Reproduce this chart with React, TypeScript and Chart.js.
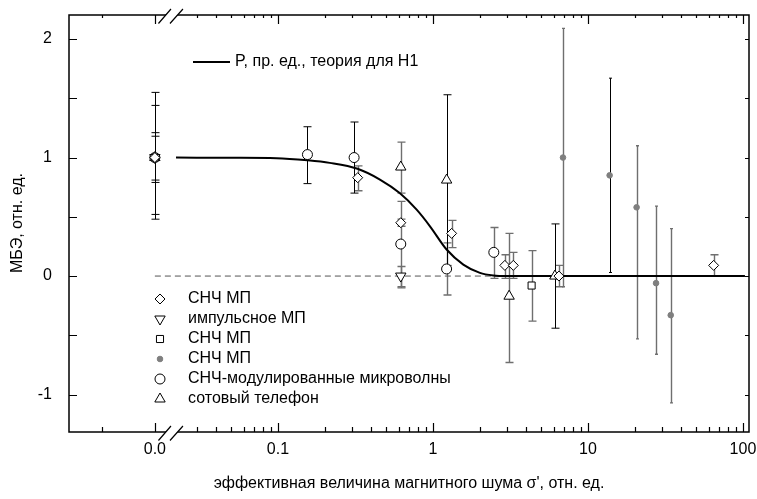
import React, { useEffect, useRef } from 'react';
import { Chart, registerables } from 'chart.js';
import { drawPoint } from 'chart.js/helpers';

Chart.register(...registerables);

const FONT = '"Liberation Sans", Arial, sans-serif';

// ---------- texts & ticks ----------
const xTickValues = [0, 0.1, 1, 10, 100];
const xTickLabels = ['0.0', '0.1', '1', '10', '100'];
const yTickValues = [-1, 0, 1, 2];
const legendLabels = ['СНЧ МП', 'импульсное МП', 'СНЧ МП', 'СНЧ МП', 'СНЧ-модулированные микроволны', 'сотовый телефон'];
const curveLabel = 'P, пр. ед., теория для H1';
const xTitle = 'эффективная величина магнитного шума σ\', отн. ед.';
const yTitle = 'МБЭ, отн. ед.';

// ---------- data ----------
// theory curve
const curveX = [0.022, 0.05, 0.098, 0.155, 0.216, 0.326, 0.455, 0.61, 0.785, 0.957, 1.225, 1.57, 2.01, 2.45, 3.0, 103];
const curveY = [1.0, 0.998, 0.995, 0.977, 0.955, 0.905, 0.814, 0.70, 0.56, 0.42, 0.224, 0.097, 0.027, 0.005, 0.0, 0.0];
// zero reference line
const zeroX = [0, 103];
const zeroY = [0, 0];

// diamonds: СНЧ МП
const diamondX = [0, 0.327, 0.62, 1.32, 2.91, 3.30, 6.5, 64.7];
const diamondY = [1.0, 0.83, 0.45, 0.36, 0.09, 0.09, 0.0, 0.09];
const diamondLo = [0.79, 0.72, 0.42, 0.24, -0.02, -0.02, -0.09, 0.0];
const diamondHi = [1.21, 0.93, 0.48, 0.47, 0.18, 0.20, 0.09, 0.18];

// down triangles: импульсное МП
const downTriX = [0, 0.62];
const downTriY = [1.0, 0.0];
const downTriLo = [0.81, -0.1];
const downTriHi = [1.18, 0.08];

// squares: СНЧ МП
const squareX = [0, 4.33];
const squareY = [1.0, -0.08];
const squareLo = [1.0, -0.38];
const squareHi = [1.0, 0.215];

// grey dots: СНЧ МП
const dotX = [6.9, 13.8, 20.6, 27.5, 34.2];
const dotY = [1.0, 0.85, 0.58, -0.06, -0.33];
const dotLo = [-0.09, 0.03, -0.53, -0.66, -1.07];
const dotHi = [2.09, 1.67, 1.10, 0.59, 0.40];

// circles: СНЧ-модулированные микроволны
const circleX = [0, 0.155, 0.31, 0.62, 1.225, 2.47];
const circleY = [1.0, 1.025, 1.0, 0.27, 0.06, 0.20];
const circleLo = [0.48, 0.78, 0.70, -0.09, -0.16, -0.02];
const circleHi = [1.55, 1.26, 1.30, 0.63, 0.28, 0.41];

// triangles: сотовый телефон
const triX = [0, 0.62, 1.225, 3.1, 6.12];
const triY = [1.0, 0.92, 0.81, -0.17, 0.0];
const triLo = [0.52, 0.70, 0.09, -0.73, -0.44];
const triHi = [1.44, 1.13, 1.53, 0.36, 0.44];

// ---------- axis geometry (log10 units) ----------
const X_MIN_L = -2.348;
const X_MAX_L = 2.039;
const ZERO_POS_L = -1.794; // where "0.0" sits
const BREAK_L = -1.687;
const PRE_MINOR_L = -2.136;
const Y_MIN = -1.316;
const Y_MAX = 2.203;
const toL = (v: number) => (v === 0 ? ZERO_POS_L : Math.log10(v));

type Series = {
  label: string; x: number[]; y: number[]; lo: number[]; hi: number[];
  pointStyle: string; radius: number; rotation: number; bg: string; border: string;
  cap: number; blackBars: number[];
};

const series: Series[] = [
  { label: legendLabels[0], x: diamondX, y: diamondY, lo: diamondLo, hi: diamondHi, pointStyle: 'rectRot', radius: 5, rotation: 0, bg: '#fff', border: '#000', cap: 4, blackBars: [0] },
  { label: legendLabels[1], x: downTriX, y: downTriY, lo: downTriLo, hi: downTriHi, pointStyle: 'triangle', radius: 6, rotation: 180, bg: '#fff', border: '#000', cap: 4, blackBars: [0] },
  { label: legendLabels[2], x: squareX, y: squareY, lo: squareLo, hi: squareHi, pointStyle: 'rect', radius: 5, rotation: 0, bg: '#fff', border: '#000', cap: 4, blackBars: [] },
  { label: legendLabels[3], x: dotX, y: dotY, lo: dotLo, hi: dotHi, pointStyle: 'circle', radius: 2.8, rotation: 0, bg: '#7f7f7f', border: '#7f7f7f', cap: 1.5, blackBars: [1] },
  { label: legendLabels[4], x: circleX, y: circleY, lo: circleLo, hi: circleHi, pointStyle: 'circle', radius: 5, rotation: 0, bg: '#fff', border: '#000', cap: 4, blackBars: [0, 1, 2] },
  { label: legendLabels[5], x: triX, y: triY, lo: triLo, hi: triHi, pointStyle: 'triangle', radius: 6, rotation: 0, bg: '#fff', border: '#000', cap: 4, blackBars: [0, 2, 4] },
];

const decorPlugin = {
  id: 'decor',
  beforeDatasetsDraw(chart: any) {
    const ctx = chart.ctx;
    const xs = chart.scales.x;
    const ys = chart.scales.y;
    ctx.save();
    series.forEach((s) => {
      s.x.forEach((xv, i) => {
        if (s.lo[i] === s.hi[i]) return;
        const black = s.blackBars.includes(i);
        const px = Math.round(xs.getPixelForValue(toL(xv))) + 0.5;
        const p1 = ys.getPixelForValue(s.hi[i]);
        const p2 = ys.getPixelForValue(s.lo[i]);
        ctx.strokeStyle = black ? '#000' : '#6f6f6f';
        ctx.lineWidth = black ? 1 : 1.4;
        ctx.beginPath();
        ctx.moveTo(px, p1);
        ctx.lineTo(px, p2);
        ctx.moveTo(px - s.cap, p1);
        ctx.lineTo(px + s.cap, p1);
        ctx.moveTo(px - s.cap, p2);
        ctx.lineTo(px + s.cap, p2);
        ctx.stroke();
      });
    });
    ctx.restore();
  },
  afterDraw(chart: any) {
    const ctx = chart.ctx;
    const { left, right, top, bottom } = chart.chartArea;
    const xs = chart.scales.x;
    const ys = chart.scales.y;
    ctx.save();
    ctx.strokeStyle = '#000';
    ctx.lineWidth = 1.5;
    ctx.strokeRect(left, top, right - left, bottom - top);

    // x ticks
    const minors: number[] = [PRE_MINOR_L];
    for (let d = -2; d <= 1; d++) {
      for (let k = 2; k <= 9; k++) {
        const l = d + Math.log10(k);
        if (l > BREAK_L + 0.06) minors.push(l);
      }
    }
    const majors = xTickValues.map(toL);
    ctx.lineWidth = 1.2;
    ctx.beginPath();
    majors.forEach((l) => {
      const px = Math.round(xs.getPixelForValue(l)) + 0.5;
      ctx.moveTo(px, bottom); ctx.lineTo(px, bottom - 9);
      ctx.moveTo(px, top); ctx.lineTo(px, top + 9);
    });
    minors.forEach((l) => {
      const px = Math.round(xs.getPixelForValue(l)) + 0.5;
      ctx.moveTo(px, bottom); ctx.lineTo(px, bottom - 5);
      ctx.moveTo(px, top); ctx.lineTo(px, top + 3);
    });
    // y ticks every 0.5
    for (let v = -1; v <= 2; v += 0.5) {
      const py = Math.round(ys.getPixelForValue(v)) + 0.5;
      ctx.moveTo(left, py); ctx.lineTo(left + 8, py);
      ctx.moveTo(right, py); ctx.lineTo(right - 4, py);
    }
    ctx.stroke();

    // axis breaks
    const c = xs.getPixelForValue(BREAK_L);
    [bottom, top].forEach((y0) => {
      ctx.fillStyle = '#fff';
      ctx.beginPath();
      ctx.moveTo(c - 13, y0 + 8.5);
      ctx.lineTo(c - 0.5, y0 - 6);
      ctx.lineTo(c + 11.5, y0 - 6);
      ctx.lineTo(c - 1.5, y0 + 8.5);
      ctx.closePath();
      ctx.fill();
      ctx.lineWidth = 1.2;
      ctx.strokeStyle = '#000';
      ctx.beginPath();
      ctx.moveTo(c - 13, y0 + 8.5); ctx.lineTo(c - 0.5, y0 - 6);
      ctx.moveTo(c - 1.5, y0 + 8.5); ctx.lineTo(c + 11.5, y0 - 6);
      ctx.stroke();
    });

    // curve legend
    ctx.fillStyle = '#000';
    ctx.font = `16px ${FONT}`;
    ctx.textBaseline = 'middle';
    ctx.textAlign = 'left';
    ctx.lineWidth = 2;
    ctx.beginPath();
    ctx.moveTo(193, 62); ctx.lineTo(230, 62);
    ctx.stroke();
    ctx.fillText(curveLabel, 235, 62);

    // markers legend
    series.forEach((s, i) => {
      const y = 299 + i * 20;
      ctx.fillStyle = s.bg;
      ctx.strokeStyle = s.border;
      ctx.lineWidth = 1;
      drawPoint(ctx, { pointStyle: s.pointStyle as any, radius: s.radius, rotation: s.rotation, borderWidth: 1 }, 160, y);
      ctx.fillStyle = '#000';
      ctx.fillText(s.label, 188, y);
    });

    // titles
    ctx.textAlign = 'center';
    ctx.fillText(xTitle, 409, 484);
    ctx.translate(18, 223);
    ctx.rotate(-Math.PI / 2);
    ctx.fillText(yTitle, 0, 0);
    ctx.restore();
  },
};

export default function App() {
  const ref = useRef<HTMLCanvasElement>(null);
  useEffect(() => {
    document.body.style.margin = '0';
    const canvas = ref.current!;
    const datasets: any[] = series.map((s) => ({
      type: 'scatter',
      label: s.label,
      data: s.x.map((xv, i) => ({ x: toL(xv), y: s.y[i] })),
      pointStyle: s.pointStyle,
      pointRadius: s.radius,
      pointRotation: s.rotation,
      pointBackgroundColor: s.bg,
      pointBorderColor: s.border,
      pointBorderWidth: 1,
      showLine: false,
    }));
    datasets.push({
      type: 'line',
      label: curveLabel,
      data: curveX.map((xv, i) => ({ x: toL(xv), y: curveY[i] })),
      borderColor: '#000',
      borderWidth: 2,
      pointRadius: 0,
      showLine: true,
      fill: false,
      cubicInterpolationMode: 'monotone',
    });
    datasets.push({
      type: 'line',
      label: 'zero',
      data: zeroX.map((xv, i) => ({ x: toL(xv), y: zeroY[i] })),
      borderColor: '#555',
      borderWidth: 1,
      borderDash: [6, 4],
      pointRadius: 0,
      showLine: true,
      fill: false,
    });
    const chart = new Chart(canvas, {
      type: 'scatter',
      data: { datasets },
      options: {
        animation: false,
        responsive: false,
        devicePixelRatio: 1,
        layout: { padding: { top: 15, right: 8, left: 0, bottom: 0 } },
        plugins: { legend: { display: false }, tooltip: { enabled: false } },
        events: [],
        scales: {
          x: {
            type: 'linear',
            min: X_MIN_L,
            max: X_MAX_L,
            grid: { display: false, drawTicks: false },
            border: { display: false },
            ticks: {
              font: { family: FONT, size: 16 },
              color: '#000',
              padding: 8,
              maxRotation: 0,
              autoSkip: false,
              callback: (v: any) => {
                const i = xTickValues.findIndex((t) => Math.abs(toL(t) - Number(v)) < 1e-6);
                return i >= 0 ? xTickLabels[i] : '';
              },
            },
            afterBuildTicks: (s: any) => { s.ticks = xTickValues.map((t) => ({ value: toL(t) })); },
            afterFit: (s: any) => { s.height = 67; s.paddingLeft = 0; s.paddingRight = 0; },
          },
          y: {
            type: 'linear',
            min: Y_MIN,
            max: Y_MAX,
            grid: { display: false, drawTicks: false },
            border: { display: false },
            ticks: {
              font: { family: FONT, size: 16 },
              color: '#000',
              padding: 17,
              callback: (v: any) => String(v),
            },
            afterBuildTicks: (s: any) => { s.ticks = yTickValues.map((v) => ({ value: v })); },
            afterFit: (s: any) => { s.width = 69; s.paddingTop = 0; s.paddingBottom = 0; },
          },
        },
      } as any,
      plugins: [decorPlugin],
    });
    return () => chart.destroy();
  }, []);
  return (
    <div style={{ position: 'absolute', left: 0, top: 0, width: 757, height: 499 }}>
      <canvas ref={ref} width={757} height={499} style={{ width: 757, height: 499, display: 'block' }} />
    </div>
  );
}
